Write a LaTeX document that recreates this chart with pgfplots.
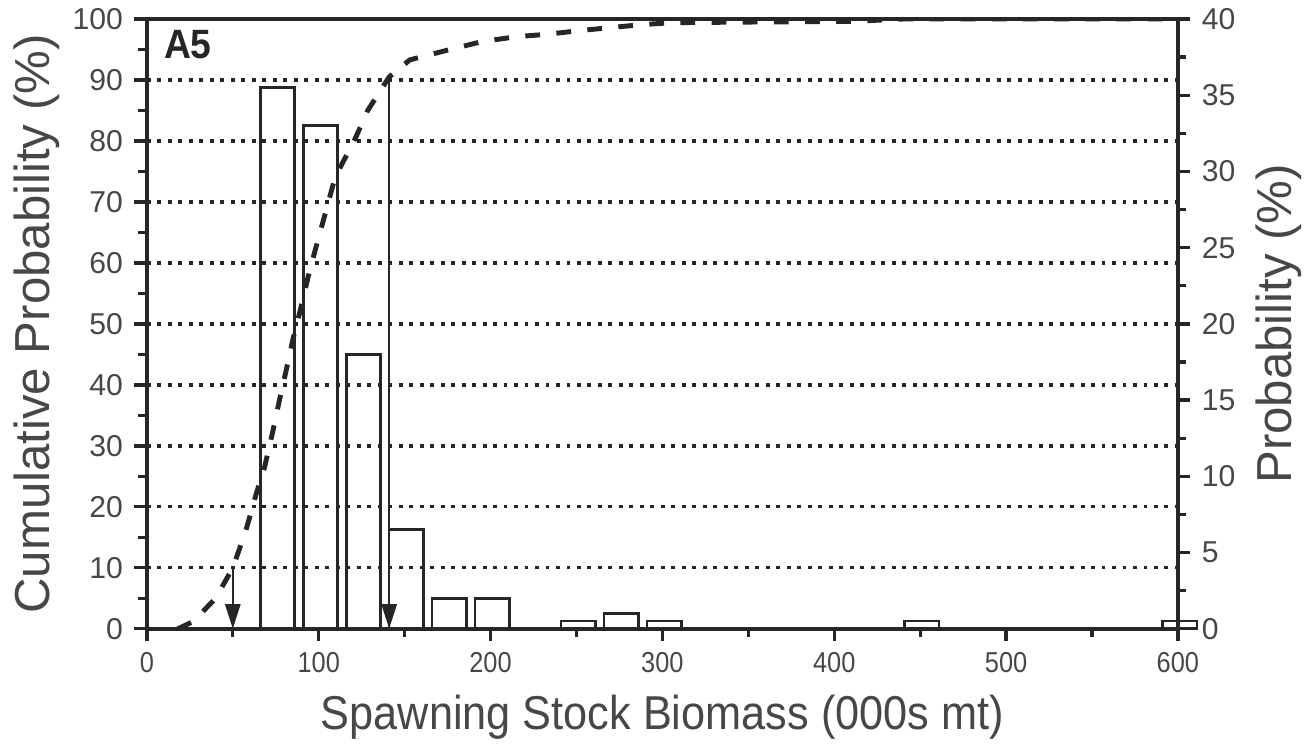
\documentclass[border=0pt]{standalone}
\usepackage{fontspec}
\setmainfont{Liberation Sans}
\newfontfamily\condfont[FakeStretch=0.91]{Liberation Sans}
\newfontfamily\tickfont[FakeStretch=0.88]{Liberation Sans}
\usepackage{pgfplots}
\pgfplotsset{compat=1.18}
\usetikzlibrary{arrows.meta}

\definecolor{ink}{gray}{0.15}
\definecolor{txt}{gray}{0.28}

% probability per bin (right axis, %)
\pgfplotstableread{
x p
76 35.5
101 33
126 18
151 6.5
176 2
201 2
251 0.5
276 1
301 0.5
451 0.5
601 0.5
}\bars

% cumulative probability (left axis, %)
\pgfplotstableread{
x c
18 0
27 1.2
40 5
50 10
57.5 16
63.5 22
68.5 26.5
73 32
77 37.3
81 42.3
85 47.5
89.5 52.5
94.5 58.5
99.5 63.7
104.5 68.8
109.5 74
114 76.5
120 79.6
128.5 85
141 90.5
153 93.3
175 94.9
195 96.3
215 97.1
233 97.5
252 98.1
270 98.6
289 99.1
306 99.4
350 99.5
410 99.6
440 100
600 100
}\cum

\pgfplotsset{
  base/.style={
    scale only axis, width=314.5pt, height=186pt,
    xmin=0, xmax=600,
    tick align=outside,
    major tick length=3.8pt, minor tick length=2.6pt,
    every tick/.style={ink, line width=1pt},
    axis line style={ink, line width=1.2pt},
    /pgf/number format/assume math mode=true,
    xticklabel style={font=\tickfont\fontsize{8.8}{10}\selectfont, text=txt},
    yticklabel style={font=\fontsize{9.2}{10}\selectfont, text=txt},
  },
}

\begin{document}
\begin{tikzpicture}
% bars, right axis
\begin{axis}[base,
  ymin=0, ymax=40,
  xtick=\empty,
  ytick={0,5,...,40}, minor y tick num=1,
  ytick pos=right, yticklabel pos=right,
  clip=false,
  ylabel={Probability (\%)},
  every axis y label/.style={at={(axis description cs:1.0747,0.5)},
    rotate=90, anchor=north, inner sep=0pt,
    font=\fontsize{15}{17}\selectfont, text=txt},
]
\addplot[ybar, bar width=20, draw=ink, line width=0.8pt, fill=none]
  table[x=x, y=p]{\bars};
\end{axis}
% cumulative curve, left axis
\begin{axis}[base, name=ax,
  ymin=0, ymax=100,
  xtick={0,100,...,600}, minor x tick num=1,
  ytick={0,10,...,100}, minor y tick num=1,
  xtick pos=bottom, ytick pos=left,
  ymajorgrids,
  grid style={ink, line width=1pt, dash pattern=on 1.2pt off 2pt},
  xlabel={Spawning Stock Biomass (000s mt)},
  ylabel={Cumulative Probability (\%)},
  every axis x label/.style={at={(axis description cs:0.5,-0.108)},
    anchor=north, inner sep=0pt,
    font=\condfont\fontsize{14.5}{17}\selectfont, text=txt},
  every axis y label/.style={at={(axis description cs:-0.0843,0.5)},
    rotate=90, anchor=south, inner sep=0pt,
    font=\fontsize{15}{17}\selectfont, text=txt},
]
\addplot[ink, line width=1.5pt, dash pattern=on 4.5pt off 5pt]
  table[x=x, y=c]{\cum};
\addplot[ink, line width=0.75pt, -{Triangle[length=7.5pt,width=4.6pt]}]
  coordinates {(50,10) (50,0)};
\addplot[ink, line width=0.75pt, -{Triangle[length=7.5pt,width=4.6pt]}]
  coordinates {(141,90.5) (141,0)};
\node[anchor=north west, inner sep=0pt, text=ink,
  font=\condfont\bfseries\fontsize{12.5}{14}\selectfont]
  at (rel axis cs:0.016,0.982) {A5};
\end{axis}
\pgfresetboundingbox
\path ([shift={(-44.8pt,-36.3pt)}]ax.south west) rectangle ([shift={(40.9pt,5.8pt)}]ax.north east);
\end{tikzpicture}
\end{document}
